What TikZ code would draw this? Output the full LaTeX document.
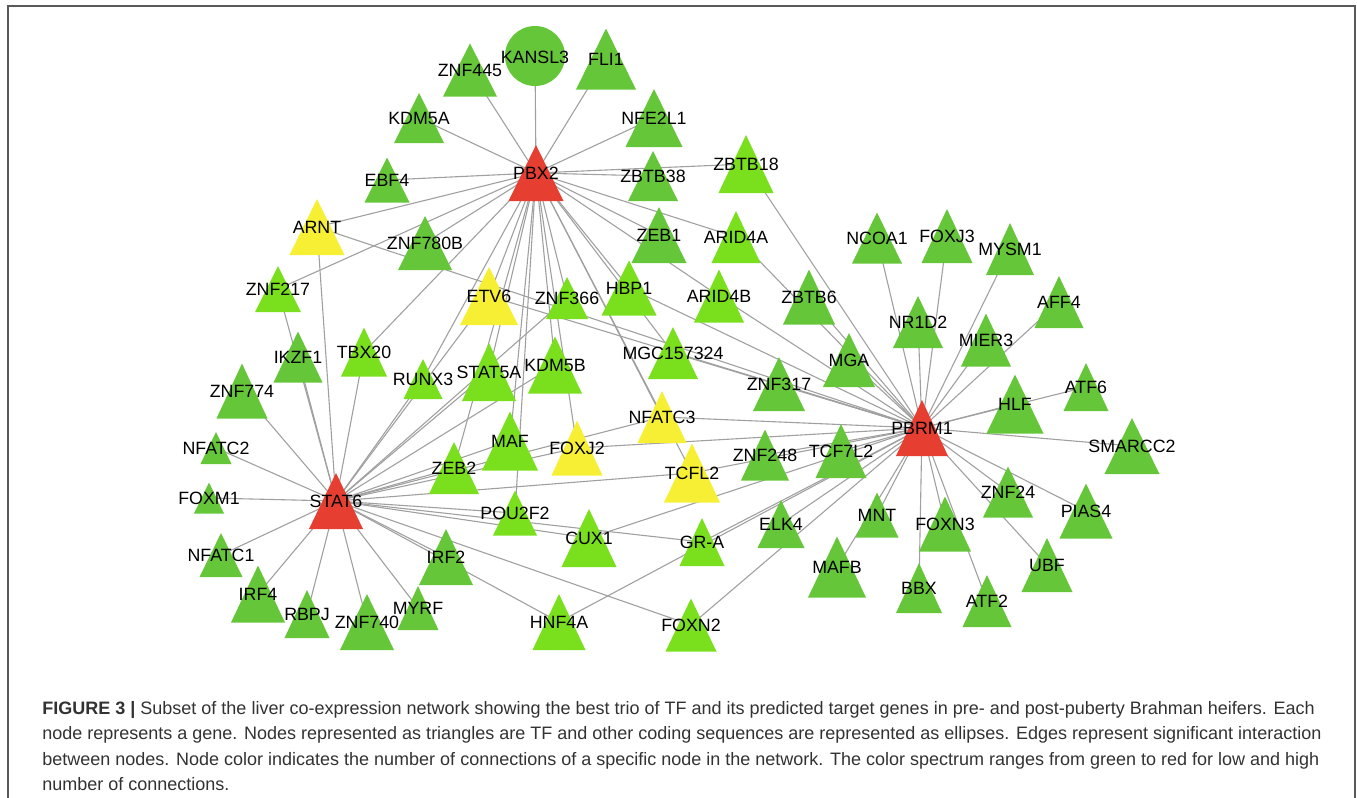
\documentclass[tikz,border=0pt]{standalone}
\usepackage{fontspec}
\setmainfont{Liberation Sans}
\usepackage{xcolor}
\usetikzlibrary{backgrounds}
\pgfdeclarelayer{front}
\pgfsetlayers{background,main,front}

\definecolor{hubred}{RGB}{230,62,48}
\definecolor{tfdark}{RGB}{102,198,58}
\definecolor{tflight}{RGB}{122,224,30}
\definecolor{tfyellow}{RGB}{247,239,52}
\definecolor{linkgray}{RGB}{160,160,160}
\definecolor{capgray}{RGB}{50,50,50}

% gene triangle: name, x, y, width, height, colour
\newcommand{\gene}[6]{%
  \fill[#6] (#2-#4/2,#3+#5/2) -- (#2+#4/2,#3+#5/2) -- (#2,#3-#5/2) -- cycle;
  \begin{pgfonlayer}{front}\node[lbl] (#1) at (#2,#3) {#1};\end{pgfonlayer}}

\begin{document}
\begin{tikzpicture}[
  x=0.5pt, y=-0.5pt,
  lbl/.style={font=\fontsize{8.9}{10}\selectfont, inner sep=0pt, text=black},
  link/.style={draw=linkgray, line width=0.55pt},
  figframe/.style={draw=black!65, line width=0.65pt},
  capt/.style={font=\fontsize{9}{12.65}\selectfont, align=left, inner sep=0pt, text=capgray},
]
\useasboundingbox (0,0) rectangle (1357,798);
\draw[figframe] (8,798) -- (8,6) -- (1355,6) -- (1355,798);

% hubs
\gene{PBX2}{536}{173}{55}{56}{hubred}
\gene{STAT6}{336}{501}{54}{56}{hubred}
\gene{PBRM1}{922}{428}{52}{56}{hubred}

% targets of PBX2 only
\gene{ZNF445}{470}{70}{54}{53}{tfdark}
\fill[tfdark] (535,56) circle[radius=15pt];
\begin{pgfonlayer}{front}\node[lbl] (KANSL3) at (535,57) {KANSL3};\end{pgfonlayer}
\gene{FLI1}{606}{59}{60}{61}{tfdark}
\gene{KDM5A}{419}{118}{50}{50}{tfdark}
\gene{NFE2L1}{654}{118}{57}{58}{tfdark}
\gene{EBF4}{387}{180}{45}{45}{tfdark}
\gene{ZBTB38}{653}{176}{50}{50}{tfdark}
\gene{ZNF780B}{425}{243}{54}{54}{tfdark}
\gene{ZEB1}{659}{235}{55}{56}{tfdark}

% targets of STAT6 only
\gene{IKZF1}{298}{357}{49}{51}{tfdark}
\gene{ZNF774}{242}{391}{51}{55}{tfdark}
\gene{NFATC2}{216}{448}{31}{32}{tfdark}
\gene{FOXM1}{209}{498}{30}{31}{tfdark}
\gene{NFATC1}{221}{555}{43}{44}{tfdark}
\gene{IRF2}{446}{557}{54}{56}{tfdark}
\gene{IRF4}{258}{594}{54}{57}{tfdark}
\gene{RBPJ}{307}{614}{45}{48}{tfdark}
\gene{ZNF740}{367}{622}{54}{56}{tfdark}
\gene{MYRF}{418}{608}{41}{44}{tfdark}

% targets of PBRM1 only
\gene{NCOA1}{877}{238}{50}{51}{tfdark}
\gene{FOXJ3}{947}{236}{51}{54}{tfdark}
\gene{MYSM1}{1010}{249}{48}{52}{tfdark}
\gene{ZBTB6}{809}{297}{52}{55}{tfdark}
\gene{AFF4}{1059}{302}{49}{52}{tfdark}
\gene{NR1D2}{918}{322}{50}{52}{tfdark}
\gene{MIER3}{986}{340}{50}{53}{tfdark}
\gene{MGA}{849}{360}{52}{54}{tfdark}
\gene{ZNF317}{779}{384}{52}{54}{tfdark}
\gene{HLF}{1015}{404}{57}{59}{tfdark}
\gene{ATF6}{1086}{387}{45}{48}{tfdark}
\gene{ZNF248}{765}{455}{48}{51}{tfdark}
\gene{TCF7L2}{841}{451}{51}{54}{tfdark}
\gene{SMARCC2}{1132}{446}{55}{56}{tfdark}
\gene{ZNF24}{1008}{492}{50}{51}{tfdark}
\gene{PIAS4}{1086}{511}{53}{55}{tfdark}
\gene{MNT}{877}{515}{43}{45}{tfdark}
\gene{FOXN3}{945}{524}{52}{55}{tfdark}
\gene{ELK4}{781}{524}{47}{48}{tfdark}
\gene{MAFB}{837}{567}{58}{61}{tfdark}
\gene{UBF}{1047}{565}{51}{54}{tfdark}
\gene{BBX}{919}{588}{46}{50}{tfdark}
\gene{ATF2}{987}{601}{49}{52}{tfdark}

% targets of two hubs
\gene{ZBTB18}{746}{164}{55}{58}{tflight}
\gene{ARID4A}{736}{237}{49}{52}{tflight}
\gene{ARID4B}{719}{296}{50}{53}{tflight}
\gene{HBP1}{629}{288}{55}{55}{tflight}
\gene{MGC157324}{673}{353}{50}{52}{tflight}
\gene{ZNF217}{278}{289}{46}{46}{tflight}
\gene{ZNF366}{567}{298}{42}{42}{tflight}
\gene{TBX20}{364}{352}{46}{49}{tflight}
\gene{RUNX3}{423}{379}{39}{40}{tflight}
\gene{STAT5A}{489}{372}{54}{58}{tflight}
\gene{KDM5B}{555}{365}{54}{57}{tflight}
\gene{MAF}{510}{441}{56}{59}{tflight}
\gene{ZEB2}{454}{468}{50}{52}{tflight}
\gene{POU2F2}{515}{513}{44}{45}{tflight}
\gene{CUX1}{589}{538}{55}{58}{tflight}
\gene{GR-A}{702}{542}{45}{48}{tflight}
\gene{HNF4A}{559}{622}{53}{56}{tflight}
\gene{FOXN2}{691}{625}{51}{53}{tflight}

% targets of all three hubs
\gene{ARNT}{317}{227}{55}{56}{tfyellow}
\gene{ETV6}{489}{296}{58}{58}{tfyellow}
\gene{NFATC3}{662}{417}{49}{52}{tfyellow}
\gene{FOXJ2}{577}{448}{51}{55}{tfyellow}
\gene{TCFL2}{692}{473}{56}{59}{tfyellow}

\begin{scope}[on background layer]
\path[link] (PBX2.center) edge (ZNF445.center) edge (KANSL3.center) edge (FLI1.center)
  edge (KDM5A.center) edge (NFE2L1.center) edge (EBF4.center) edge (ZBTB38.center)
  edge (ZNF780B.center) edge (ZEB1.center) edge (ZBTB18.center) edge (ARID4A.center)
  edge (ARID4B.center) edge (HBP1.center) edge (MGC157324.center) edge (ZNF217.center)
  edge (ZNF366.center) edge (TBX20.center) edge (RUNX3.center) edge (STAT5A.center)
  edge (KDM5B.center) edge (MAF.center) edge (ZEB2.center) edge (POU2F2.center)
  edge (ARNT.center) edge (ETV6.center) edge (NFATC3.center) edge (FOXJ2.center)
  edge (TCFL2.center);
\path[link] (STAT6.center) edge (IKZF1.center) edge (ZNF774.center) edge (NFATC2.center)
  edge (FOXM1.center) edge (NFATC1.center) edge (IRF2.center) edge (IRF4.center)
  edge (RBPJ.center) edge (ZNF740.center) edge (MYRF.center) edge (ZNF217.center)
  edge (ZNF366.center) edge (TBX20.center) edge (RUNX3.center) edge (STAT5A.center)
  edge (KDM5B.center) edge (MAF.center) edge (ZEB2.center) edge (POU2F2.center)
  edge (CUX1.center) edge (GR-A.center) edge (HNF4A.center) edge (FOXN2.center)
  edge (ARNT.center) edge (ETV6.center) edge (NFATC3.center) edge (FOXJ2.center)
  edge (TCFL2.center);
\path[link] (PBRM1.center) edge (NCOA1.center) edge (FOXJ3.center) edge (MYSM1.center)
  edge (ZBTB6.center) edge (AFF4.center) edge (NR1D2.center) edge (MIER3.center)
  edge (MGA.center) edge (ZNF317.center) edge (HLF.center) edge (ATF6.center)
  edge (ZNF248.center) edge (TCF7L2.center) edge (SMARCC2.center) edge (ZNF24.center)
  edge (PIAS4.center) edge (MNT.center) edge (FOXN3.center) edge (ELK4.center)
  edge (MAFB.center) edge (UBF.center) edge (BBX.center) edge (ATF2.center)
  edge (ZBTB18.center) edge (ARID4A.center) edge (ARID4B.center) edge (HBP1.center)
  edge (MGC157324.center) edge (CUX1.center) edge (GR-A.center) edge (HNF4A.center)
  edge (FOXN2.center) edge (ARNT.center) edge (ETV6.center) edge (NFATC3.center)
  edge (FOXJ2.center) edge (TCFL2.center);
\end{scope}

\node[capt, anchor=north west] (CAP) at (42,701) {\textbf{FIGURE 3 |} Subset of the liver co-expression network showing the best trio of TF and its predicted target genes in pre- and post-puberty Brahman heifers. Each\\
node represents a gene. Nodes represented as triangles are TF and other coding sequences are represented as ellipses. Edges represent significant interaction\\
between nodes. Node color indicates the number of connections of a specific node in the network. The color spectrum ranges from green to red for low and high\\
number of connections.};

\end{tikzpicture}
\end{document}
